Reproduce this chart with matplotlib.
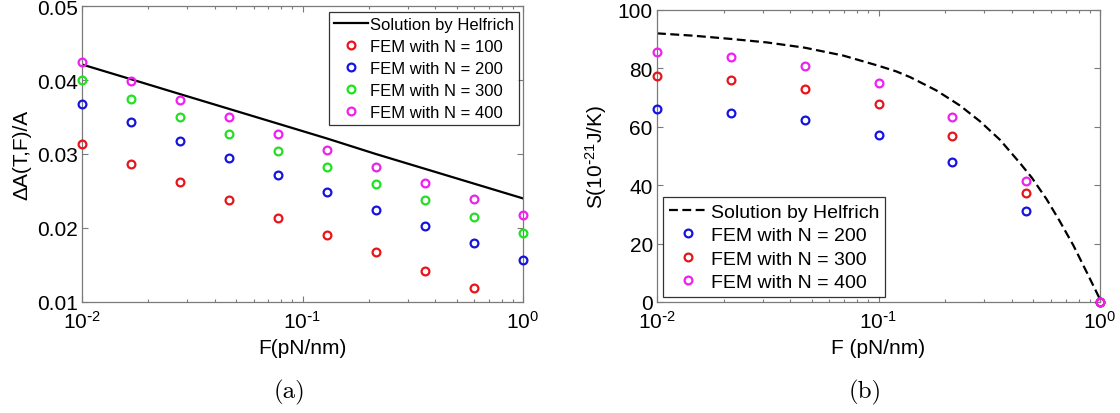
import matplotlib
matplotlib.use("Agg")
import matplotlib.pyplot as plt
from matplotlib.ticker import LogLocator, FixedLocator, FixedFormatter, NullFormatter

plt.rcParams['font.family'] = ['Liberation Sans', 'DejaVu Sans']
plt.rcParams['mathtext.default'] = 'regular'

# ---- panel (a): relative excess area vs force ----
force_a = [0.01, 0.0167, 0.0278, 0.0464, 0.0774, 0.129, 0.215, 0.359, 0.599, 1.0]
helfrich_a = [0.0421, 0.0401, 0.0381, 0.0361, 0.0341, 0.0321, 0.0300, 0.0280, 0.0260, 0.0240]
area_n100 = [0.0313, 0.0287, 0.0262, 0.0238, 0.0214, 0.0190, 0.0167, 0.0142, 0.0119]
area_n200 = [0.0368, 0.0343, 0.0318, 0.0295, 0.0271, 0.0249, 0.0225, 0.0203, 0.0180, 0.0157]
area_n300 = [0.0400, 0.0375, 0.0350, 0.0327, 0.0304, 0.0282, 0.0260, 0.0238, 0.0215, 0.0193]
area_n400 = [0.0424, 0.0398, 0.0373, 0.0350, 0.0327, 0.0305, 0.0283, 0.0261, 0.0239, 0.0217]
yticks_a = [0.01, 0.02, 0.03, 0.04, 0.05]

# ---- panel (b): entropy vs force ----
force_helfrich_b = [0.01, 0.0146, 0.0215, 0.0313, 0.0464, 0.0693, 0.1, 0.12, 0.139, 0.183,
                    0.215, 0.233, 0.287, 0.354, 0.436, 0.492, 0.574, 0.659, 0.758, 0.871,
                    0.99, 1.0]
helfrich_b = [92.0, 91.2, 90.1, 88.9, 87.1, 84.4, 80.9, 79.0, 77.0, 72.4,
              69.0, 67.3, 61.9, 55.5, 47.5, 42.6, 35.2, 27.6, 19.4, 10.2,
              1.6, 0.0]
force_b = [0.01, 0.0215, 0.0464, 0.1, 0.215, 0.464, 1.0]
entropy_n200 = [66.2, 64.8, 62.3, 57.3, 48.0, 31.1, 0.0]
entropy_n300 = [77.5, 76.0, 72.9, 67.7, 57.0, 37.3, 0.0]
entropy_n400 = [85.5, 83.9, 80.8, 74.9, 63.5, 41.4, 0.0]
yticks_b = [0, 20, 40, 60, 80, 100]

xticks = [0.01, 0.1, 1.0]
xtick_labels = [r'$10^{\text{-}2}$', r'$10^{\text{-}1}$', r'$10^{0}$']

RED = '#e8141a'
BLUE = '#1414e0'
GREEN = '#22e022'
MAGENTA = '#ee22ee'
AXIS_GRAY = '#7a7a7a'

W, H = 1120, 414
fig = plt.figure(figsize=(W / 100, H / 100), dpi=100)
ax1 = fig.add_axes([82 / W, (H - 303) / H, 441 / W, 296 / H])
ax2 = fig.add_axes([657 / W, (H - 303) / H, 443 / W, 292 / H])

marker_kw = dict(ls='none', marker='o', mfc='none', ms=5.6, mew=1.6, clip_on=False, zorder=3)


def style_axes(ax):
    ax.set_xscale('log')
    ax.set_xlim(0.01, 1.0)
    ax.xaxis.set_major_locator(FixedLocator(xticks))
    ax.xaxis.set_major_formatter(FixedFormatter(xtick_labels))
    ax.xaxis.set_minor_locator(LogLocator(base=10, subs=range(2, 10)))
    ax.xaxis.set_minor_formatter(NullFormatter())
    for s in ax.spines.values():
        s.set_color(AXIS_GRAY)
        s.set_linewidth(0.9)
    ax.tick_params(which='both', direction='in', top=True, right=True,
                   color=AXIS_GRAY, labelcolor='black', labelsize=15, width=0.8)
    ax.tick_params(which='major', length=4, pad=3)
    ax.tick_params(which='minor', length=2.5)
    ax.tick_params(axis='x', which='major', pad=6)


# panel (a)
ax1.plot(force_a, helfrich_a, color='black', lw=1.6, label='Solution by Helfrich', zorder=2)
ax1.plot(force_a[:len(area_n100)], area_n100, color=RED, label='FEM with N = 100', **marker_kw)
ax1.plot(force_a, area_n200, color=BLUE, label='FEM with N = 200', **marker_kw)
ax1.plot(force_a, area_n300, color=GREEN, label='FEM with N = 300', **marker_kw)
ax1.plot(force_a, area_n400, color=MAGENTA, label='FEM with N = 400', **marker_kw)
style_axes(ax1)
ax1.set_ylim(0.01, 0.05)
ax1.set_yticks(yticks_a)
ax1.set_yticklabels([f'{v:.2f}' for v in yticks_a])
ax1.set_xlabel('F(pN/nm)', fontsize=15, labelpad=4)
ax1.set_ylabel('ΔA(T,F)/A', fontsize=15, labelpad=4)

leg_kw = dict(frameon=True, fancybox=False, borderaxespad=0,
              handlelength=2.0, handletextpad=0.15, borderpad=0.3, numpoints=1)
leg1 = ax1.legend(loc='upper right', bbox_to_anchor=(1 - 4 / 441, 1 - 6 / 296),
                  fontsize=12, labelspacing=0.42, **leg_kw)
leg1.get_frame().set_edgecolor('black')
leg1.get_frame().set_linewidth(0.9)

# panel (b)
ax2.plot(force_helfrich_b, helfrich_b, color='black', lw=1.6, ls=(0, (4, 2)),
         label='Solution by Helfrich', zorder=2)
ax2.plot(force_b, entropy_n200, color=BLUE, label='FEM with N = 200', **marker_kw)
ax2.plot(force_b, entropy_n300, color=RED, label='FEM with N = 300', **marker_kw)
ax2.plot(force_b, entropy_n400, color=MAGENTA, label='FEM with N = 400', **marker_kw)
style_axes(ax2)
ax2.set_ylim(0, 100)
ax2.set_yticks(yticks_b)
ax2.set_xlabel('F (pN/nm)', fontsize=15, labelpad=4)
ax2.set_ylabel(r'S(10$^{\text{-}21}$J/K)', fontsize=15, labelpad=6)
leg2 = ax2.legend(loc='lower left', bbox_to_anchor=(6 / 443, 5 / 292),
                  fontsize=14, labelspacing=0.3, **leg_kw)
leg2.get_frame().set_edgecolor('black')
leg2.get_frame().set_linewidth(0.9)

# sub-figure captions
fig.text(290 / W, (H - 392) / H, '(a)', family='cmr10', fontsize=18, ha='center', va='center')
fig.text(865 / W, (H - 392) / H, '(b)', family='cmr10', fontsize=18, ha='center', va='center')

fig.savefig('out.png', dpi=100, facecolor='white')
